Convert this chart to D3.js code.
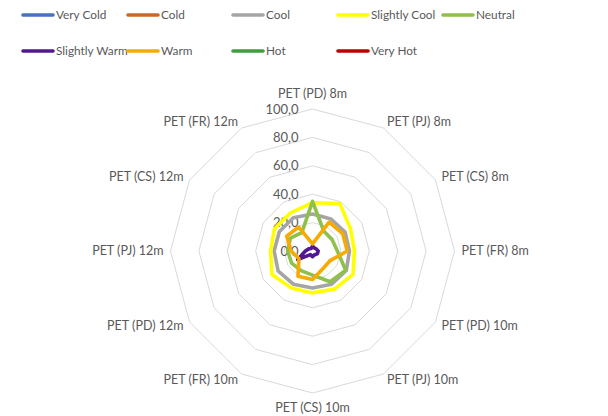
<!DOCTYPE html>
<html>
<head>
<meta charset="utf-8">
<script src="https://cdn.jsdelivr.net/npm/d3@7"></script>
<style>
  html, body { margin: 0; padding: 0; background: #ffffff; }
  svg { display: block; }
  text { font-family: Lato, "Noto Sans", sans-serif; fill: #595959; }
</style>
</head>
<body>
<svg id="chart" width="608" height="416"></svg>
<script>
// Radar axes (PET by site and height)
const axes = [
  "PET (PD) 8m", "PET (PJ) 8m", "PET (CS) 8m", "PET (FR) 8m",
  "PET (PD) 10m", "PET (PJ) 10m", "PET (CS) 10m", "PET (FR) 10m",
  "PET (PD) 12m", "PET (PJ) 12m", "PET (CS) 12m", "PET (FR) 12m"
];

// Thermal sensation classes (legend order)
const categories = ["Very Cold", "Cold", "Cool", "Slightly Cool", "Neutral",
                    "Slightly Warm", "Warm", "Hot", "Very Hot"];
const colors = ["#4472c4", "#c8692a", "#a5a5a5", "#ffff00", "#8fc04a",
                "#52188f", "#f7ab00", "#3f9f3f", "#c00000"];

// Percentage of time in each class, per axis
const veryCold     = [];
const cold         = [];
const cool         = [26, 26, 26.5, 26, 27.5, 27, 26, 27, 28, 27, 27, 27];
const slightlyCool = [34, 38.5, 31, 29.5, 33, 31, 29.5, 30, 33, 29.5, 31, 31];
const neutral      = [35, 16, 16, 17.5, 27, 25, 17, 16, 17, 17.5, 18, 15];
const slightlyWarm = [3.5, 2.5, 3, 4, 4, 3, 4, 3, 12, 5, 3, 2];
const warm         = [5, 23.5, 24.5, 24.5, 14, 14.5, 20, 20.5, 11, 15, 21, 19.5];
const hot          = [];
const veryHot      = [];

const seriesValues = [veryCold, cold, cool, slightlyCool, neutral,
                      slightlyWarm, warm, hot, veryHot];

// Radial tick values and labels
const tickValues = [0, 20, 40, 60, 80, 100];
const tickLabels = ["0,0", "20,0", "40,0", "60,0", "80,0", "100,0"];

const svg = d3.select("#chart");
const cx = 312.5, cy = 251, R = 142;
const fontSize = 12.5;

const r = d3.scaleLinear().domain([0, 100]).range([0, R]);
const angle = d3.scalePoint().domain(d3.range(axes.length))
  .range([0, 2 * Math.PI * (axes.length - 1) / axes.length]);

const g = svg.append("g").attr("transform", `translate(${cx},${cy})`);

// Gridline polygons
const ringLine = d3.lineRadial()
  .angle((d, i) => angle(i))
  .radius(d => r(d))
  .curve(d3.curveLinearClosed);

g.selectAll("path.ring")
  .data(tickValues.filter(v => v > 0))
  .join("path")
  .attr("class", "ring")
  .attr("d", v => ringLine(axes.map(() => v)))
  .attr("fill", "none")
  .attr("stroke", "#d9d9d9")
  .attr("stroke-width", 1);

// Radial tick labels along the top axis
g.selectAll("text.tick")
  .data(tickValues)
  .join("text")
  .attr("class", "tick")
  .attr("x", -14)
  .attr("y", v => -r(v))
  .attr("dy", "0.35em")
  .attr("text-anchor", "end")
  .attr("font-size", 13)
  .text((v, i) => tickLabels[i]);

// Axis category labels
g.selectAll("text.axis")
  .data(axes)
  .join("text")
  .attr("class", "axis")
  .each(function (d, i) {
    const a = angle(i);
    const s = Math.sin(a), c = Math.cos(a);
    const vertical = Math.abs(s) < 0.01;
    const rr = R + (vertical ? 15 : 7);
    d3.select(this)
      .attr("x", rr * s)
      .attr("y", -rr * c)
      .attr("dy", "0.35em")
      .attr("text-anchor", vertical ? "middle" : (s > 0 ? "start" : "end"));
  })
  .attr("font-size", fontSize)
  .text(d => d);

// Data series
const seriesLine = d3.lineRadial()
  .angle((d, i) => angle(i))
  .radius(d => r(d))
  .curve(d3.curveLinearClosed);

g.selectAll("path.series")
  .data(seriesValues.map((vals, k) => ({ vals, k })).filter(s => s.vals.length))
  .join("path")
  .attr("class", "series")
  .attr("d", s => seriesLine(s.vals))
  .attr("fill", "none")
  .attr("stroke", s => colors[s.k])
  .attr("stroke-width", 3.6)
  .attr("stroke-linejoin", "round")
  .attr("stroke-linecap", "round");

// Legend
const legendX = [23, 128, 233, 338, 443];
const legendY = [15, 51];
const legend = svg.append("g");
categories.forEach((name, i) => {
  const row = i < 5 ? 0 : 1;
  const col = i < 5 ? i : i - 5;
  const x = legendX[col], y = legendY[row];
  legend.append("line")
    .attr("x1", x).attr("x2", x + 30)
    .attr("y1", y).attr("y2", y)
    .attr("stroke", colors[i])
    .attr("stroke-width", 3.6)
    .attr("stroke-linecap", "round");
  legend.append("text")
    .attr("x", x + 33).attr("y", y)
    .attr("dy", "0.35em")
    .attr("font-size", 11.8)
    .text(name);
});
</script>
</body>
</html>
